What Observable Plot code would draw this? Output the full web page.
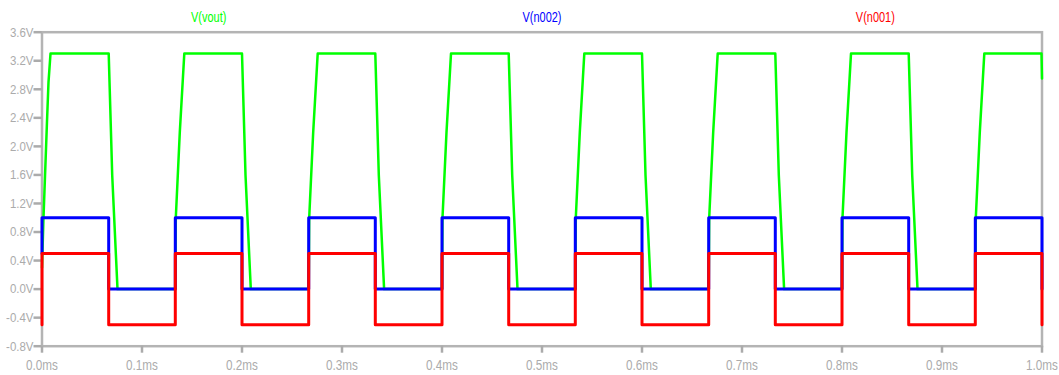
<!DOCTYPE html>
<html>
<head>
<meta charset="utf-8">
<script src="https://cdn.jsdelivr.net/npm/d3@7"></script>
<script src="https://cdn.jsdelivr.net/npm/@observablehq/plot@0.6"></script>
<style>
  html, body { margin: 0; padding: 0; background: #ffffff; }
  #chart { width: 1059px; height: 375px; overflow: hidden; }
</style>
</head>
<body>
<div id="chart"></div>
<script>
// Series names and colours
const seriesNames = ["V(vout)", "V(n002)", "V(n001)"];
const seriesColors = ["#00ff00", "#0000ff", "#ff0000"];

// Tick values
const xTicks = [0, 0.1, 0.2, 0.3, 0.4, 0.5, 0.6, 0.7, 0.8, 0.9, 1.0];
const yTicks = [-0.8, -0.4, 0, 0.4, 0.8, 1.2, 1.6, 2.0, 2.4, 2.8, 3.2, 3.6];

// V(vout): time (ms) and voltage (V)
const voutT = [
  0, 0.0015, 0.005, 0.0065, 0.0085,
  0.0667, 0.0702, 0.0755,
  0.1333, 0.1338, 0.1378, 0.1423,
  0.2000, 0.2035, 0.2088,
  0.2667, 0.2672, 0.2712, 0.2757,
  0.3333, 0.3368, 0.3421,
  0.4000, 0.4005, 0.4045, 0.4090,
  0.4667, 0.4702, 0.4755,
  0.5333, 0.5338, 0.5378, 0.5423,
  0.6000, 0.6035, 0.6088,
  0.6667, 0.6672, 0.6712, 0.6757,
  0.7333, 0.7368, 0.7421,
  0.8000, 0.8005, 0.8045, 0.8090,
  0.8667, 0.8702, 0.8755,
  0.9333, 0.9338, 0.9378, 0.9423,
  0.9995, 1.0000
];
const voutV = [
  0.3, 1.0, 2.35, 2.9, 3.3,
  3.3, 1.6, 0,
  0, 1.0, 2.2, 3.3,
  3.3, 1.6, 0,
  0, 1.0, 2.2, 3.3,
  3.3, 1.6, 0,
  0, 1.0, 2.2, 3.3,
  3.3, 1.6, 0,
  0, 1.0, 2.2, 3.3,
  3.3, 1.6, 0,
  0, 1.0, 2.2, 3.3,
  3.3, 1.6, 0,
  0, 1.0, 2.2, 3.3,
  3.3, 1.6, 0,
  0, 1.0, 2.2, 3.3,
  3.3, 2.95
];

// V(n002): time (ms) and voltage (V)
const n002T = [
  0, 0, 0.0667, 0.0667, 0.1333, 0.1333, 0.2000, 0.2000,
  0.2667, 0.2667, 0.3333, 0.3333, 0.4000, 0.4000, 0.4667, 0.4667,
  0.5333, 0.5333, 0.6000, 0.6000, 0.6667, 0.6667, 0.7333, 0.7333,
  0.8000, 0.8000, 0.8667, 0.8667, 0.9333, 0.9333, 1.0000, 1.0000
];
const n002V = [
  0.5, 1.0, 1.0, 0, 0, 1.0, 1.0, 0,
  0, 1.0, 1.0, 0, 0, 1.0, 1.0, 0,
  0, 1.0, 1.0, 0, 0, 1.0, 1.0, 0,
  0, 1.0, 1.0, 0, 0, 1.0, 1.0, 0
];

// V(n001): time (ms) and voltage (V)
const n001T = [
  0, 0, 0.0667, 0.0667, 0.1333, 0.1333, 0.2000, 0.2000,
  0.2667, 0.2667, 0.3333, 0.3333, 0.4000, 0.4000, 0.4667, 0.4667,
  0.5333, 0.5333, 0.6000, 0.6000, 0.6667, 0.6667, 0.7333, 0.7333,
  0.8000, 0.8000, 0.8667, 0.8667, 0.9333, 0.9333, 1.0000, 1.0000
];
const n001V = [
  -0.5, 0.5, 0.5, -0.5, -0.5, 0.5, 0.5, -0.5,
  -0.5, 0.5, 0.5, -0.5, -0.5, 0.5, 0.5, -0.5,
  -0.5, 0.5, 0.5, -0.5, -0.5, 0.5, 0.5, -0.5,
  -0.5, 0.5, 0.5, -0.5, -0.5, 0.5, 0.5, -0.5
];

const toRows = (ts, vs) => ts.map((t, i) => ({t, v: vs[i]}));
const vout = toRows(voutT, voutV);
const n002 = toRows(n002T, n002V);
const n001 = toRows(n001T, n001V);
const legendRows = seriesNames.map((name, i) => ({name, color: seriesColors[i], i}));

const axisGray = "#ababab";
const font = "'Liberation Sans', Arial, sans-serif";

const chart = Plot.plot({
  width: 1059,
  height: 375,
  marginLeft: 41.5,
  marginRight: 17.5,
  marginTop: 31.7,
  marginBottom: 29.3,
  style: {fontFamily: font, background: "#ffffff", overflow: "visible"},
  x: {domain: [0, 1], label: null},
  y: {domain: [-0.8, 3.6], label: null},
  marks: [
    Plot.frame({stroke: "#b4b4b4", strokeWidth: 2.5}),
    Plot.axisX({
      ticks: xTicks,
      tickFormat: d => d.toFixed(1) + "ms",
      tickSize: 7,
      tickPadding: 6.5,
      fontSize: 15,
      color: axisGray,
      strokeWidth: 2.5,
      label: null
    }),
    Plot.axisY({
      ticks: yTicks,
      tickFormat: d => d.toFixed(1) + "V",
      tickSize: 8,
      tickPadding: 0.5,
      fontSize: 13.5,
      color: axisGray,
      strokeWidth: 2.5,
      label: null
    }),
    Plot.line(vout, {x: "t", y: "v", stroke: seriesColors[0], strokeWidth: 2.5}),
    Plot.line(n002, {x: "t", y: "v", stroke: seriesColors[1], strokeWidth: 3}),
    Plot.line(n001, {x: "t", y: "v", stroke: seriesColors[2], strokeWidth: 3}),
    Plot.text(legendRows, {
      x: d => (2 * d.i + 1) / (2 * seriesNames.length),
      y: 3.6,
      dy: -15,
      text: "name",
      fill: "color",
      fontSize: 15
    })
  ]
});

document.getElementById("chart").appendChild(chart);

// Emulate the narrow (condensed) typeface of the original by squeezing glyphs horizontally.
chart.querySelectorAll("text").forEach(text => {
  try {
    const fs = parseFloat(getComputedStyle(text).fontSize);
    const fill = getComputedStyle(text).fill || "";
    let s;
    if (fs >= 14.9 && !/171/.test(fill)) s = 0.73;   // legend labels
    else if (fs >= 14.9) s = 0.78;                   // x tick labels
    else s = 0.85;                                   // y tick labels
    const len = text.getComputedTextLength();
    if (len > 0) {
      text.setAttribute("textLength", (len * s).toFixed(2));
      text.setAttribute("lengthAdjust", "spacingAndGlyphs");
    }
  } catch (e) {}
});
</script>
</body>
</html>
